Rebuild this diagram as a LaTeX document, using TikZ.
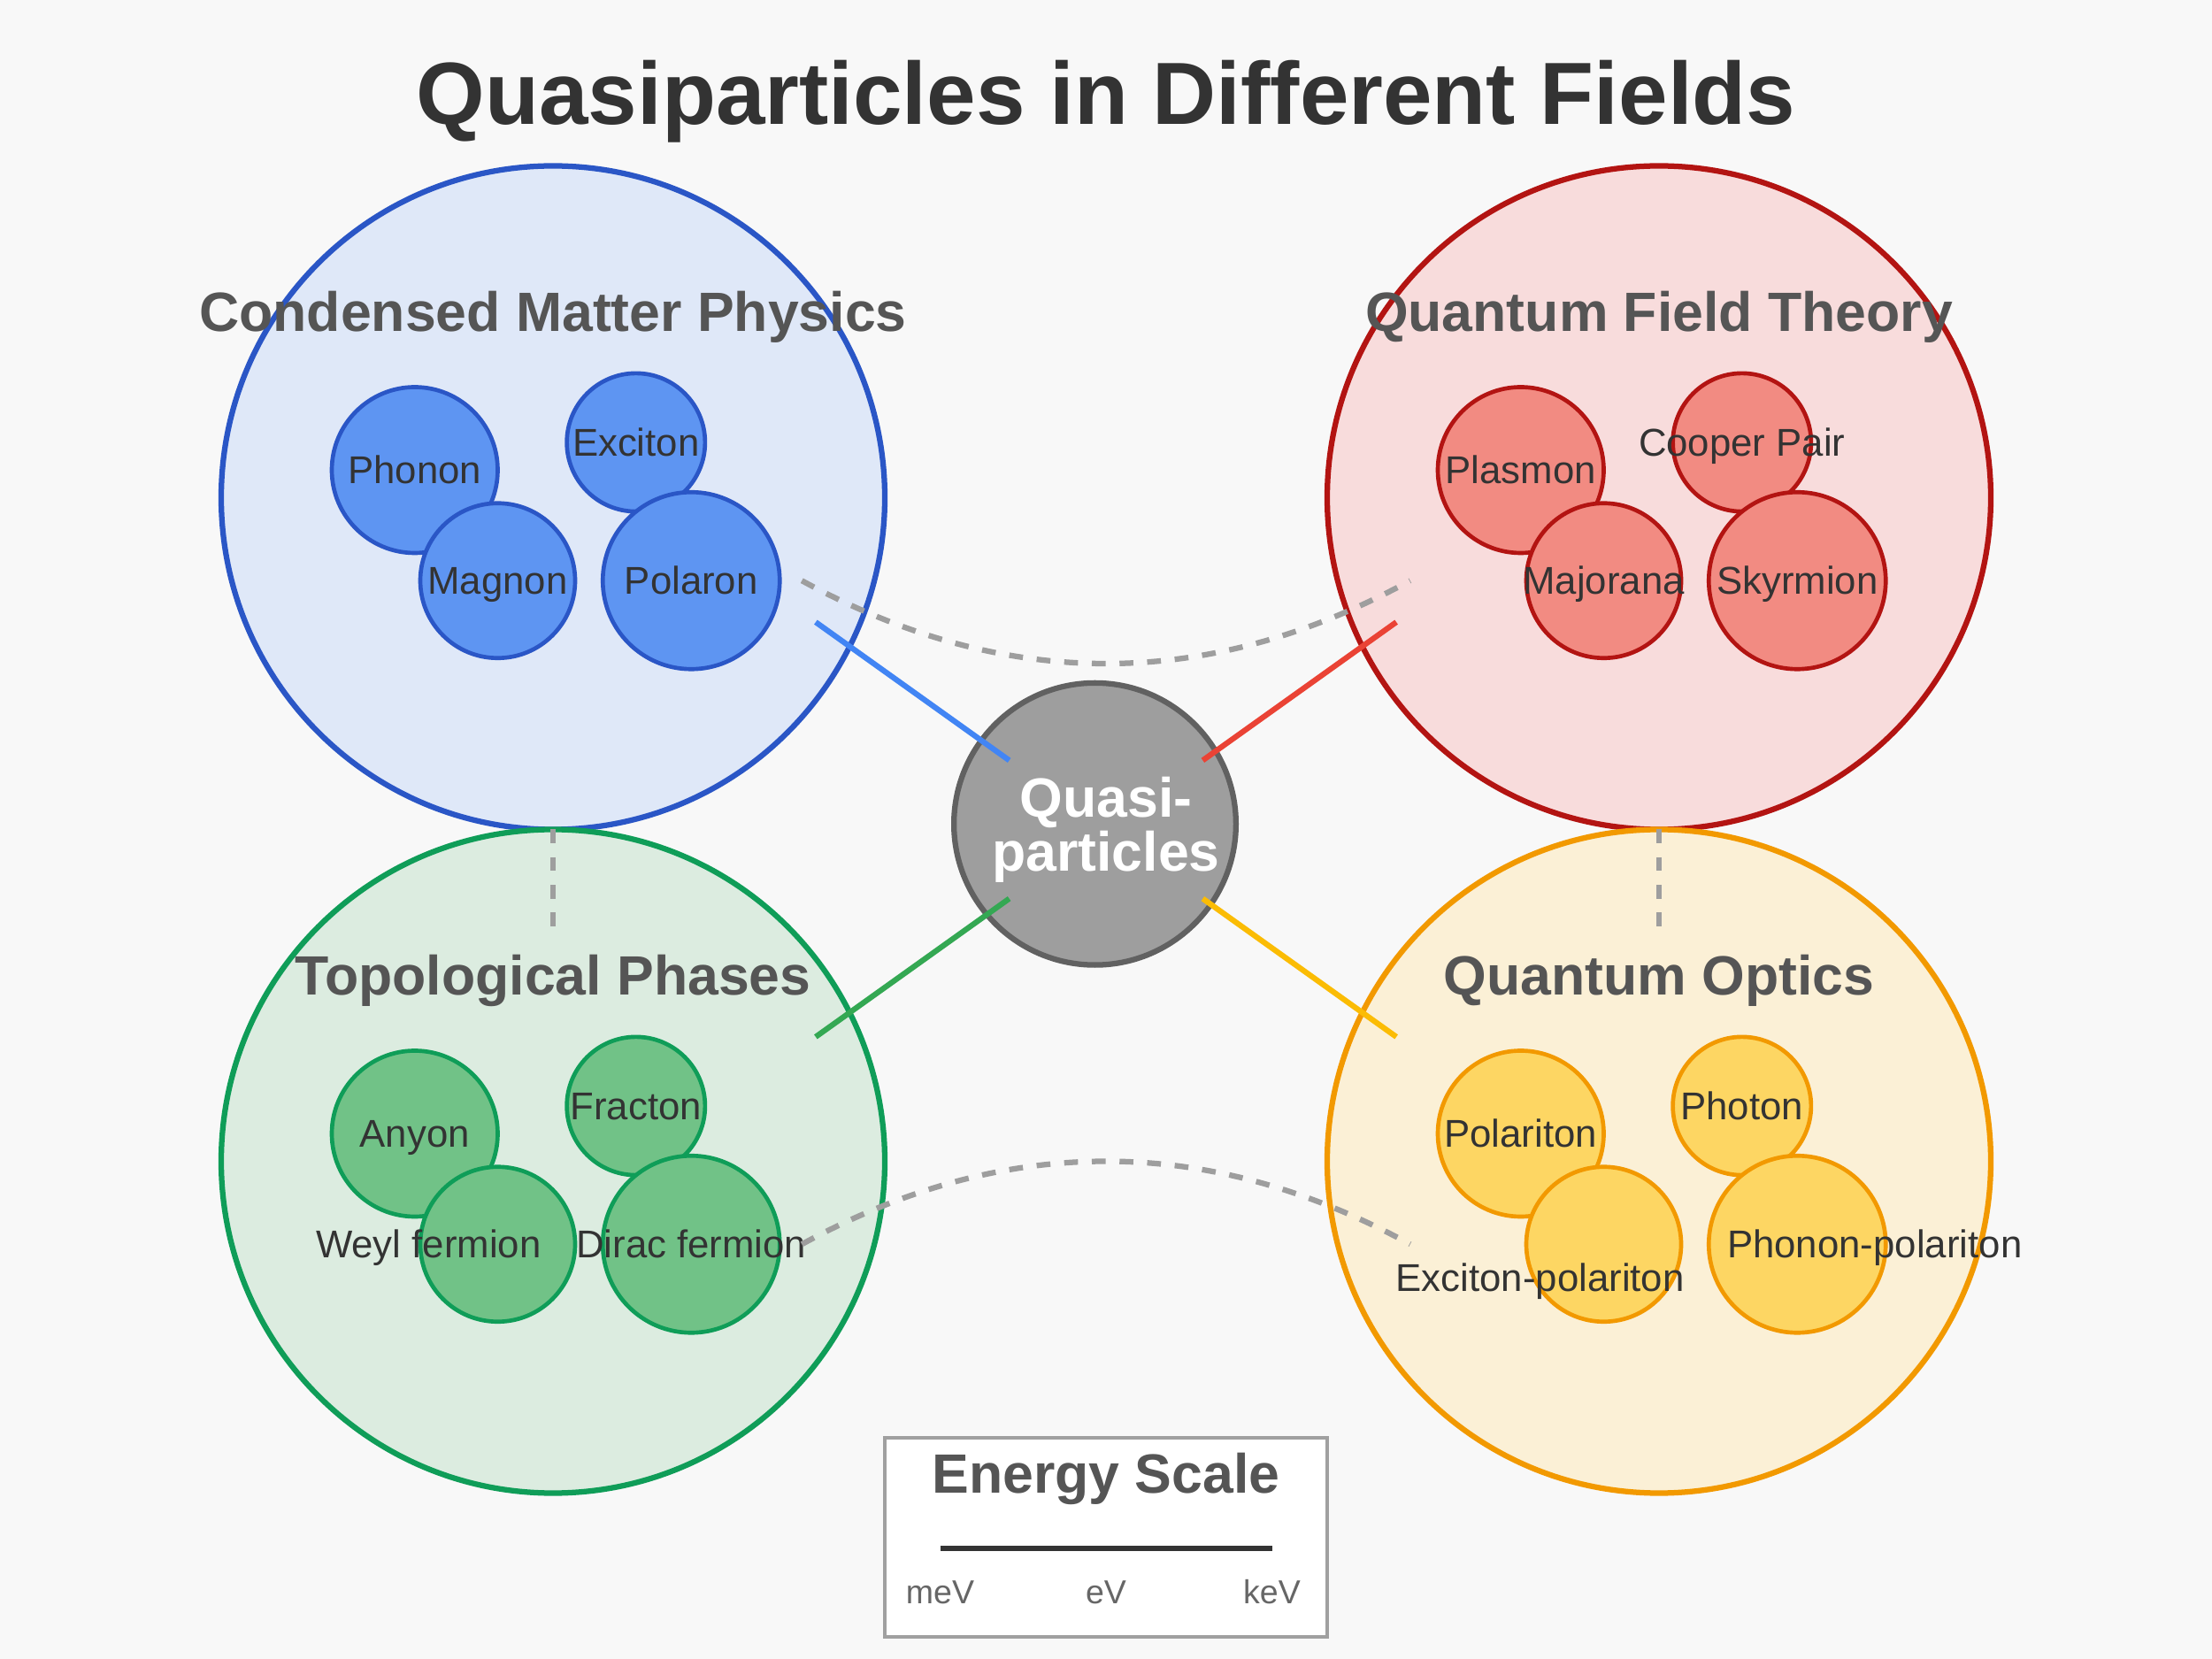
\documentclass[tikz,border=0pt]{standalone}
\usepackage{fontspec}
\setmainfont{Liberation Sans}
\usetikzlibrary{positioning}

\definecolor{canvas}{HTML}{F8F8F8}
\definecolor{ink}{HTML}{333333}
\definecolor{headgray}{HTML}{555555}
\definecolor{dashgray}{HTML}{9E9E9E}
\definecolor{unitgray}{HTML}{666666}
\definecolor{boxline}{HTML}{A0A0A0}
\definecolor{cmpline}{HTML}{2A56C6}
\definecolor{cmpfill}{HTML}{DFE8F8}
\definecolor{cmpdot}{HTML}{5E95F2}
\definecolor{cmplink}{HTML}{4285F4}
\definecolor{qftline}{HTML}{B31412}
\definecolor{qftfill}{HTML}{F8DCDC}
\definecolor{qftdot}{HTML}{F28B82}
\definecolor{qftlink}{HTML}{EA4335}
\definecolor{tpline}{HTML}{0F9D58}
\definecolor{tpfill}{HTML}{DCECE0}
\definecolor{tpdot}{HTML}{71C287}
\definecolor{tplink}{HTML}{34A853}
\definecolor{qoline}{HTML}{F29900}
\definecolor{qofill}{HTML}{FBF0D6}
\definecolor{qodot}{HTML}{FDD663}
\definecolor{qolink}{HTML}{FBBC04}
\definecolor{hubfill}{HTML}{9E9E9E}
\definecolor{hubline}{HTML}{616161}

\begin{document}
\begin{tikzpicture}[
  x=0.03125cm, y=-0.03125cm,
  field/.style={draw, circle, line width=1.78pt, minimum size=7.5cm, inner sep=0pt, outer sep=0pt},
  quasi/.style={draw, circle, line width=1.33pt, inner sep=0pt, outer sep=0pt},
  fieldname/.style={font=\fontsize{17.8pt}{20pt}\selectfont\bfseries, text=headgray, anchor=base, inner sep=0pt},
  plabel/.style={font=\fontsize{12.45pt}{14pt}\selectfont, text=ink, anchor=base, inner sep=0pt},
  link/.style={line width=1.78pt},
  bridge/.style={draw=dashgray, line width=1.78pt, dash pattern=on 4.45pt off 4.45pt}
]
\fill[canvas] (0,0) rectangle (800,600);
\node[font=\fontsize{28.4pt}{32pt}\selectfont\bfseries, text=ink, anchor=base, inner sep=0pt] (title) at (400,45) {Quasiparticles in Different Fields};

% condensed matter
\node[field, draw=cmpline, fill=cmpfill] (cmp) at (200,180) {};
\node[fieldname] (cmp-t) at (200,120) {Condensed Matter Physics};
\node[quasi, draw=cmpline, fill=cmpdot, minimum size=1.875cm] (phonon) at (150,170) {};
\node[plabel] (phonon-t) at (150,175) {Phonon};
\node[quasi, draw=cmpline, fill=cmpdot, minimum size=1.5625cm] (exciton) at (230,160) {};
\node[plabel] (exciton-t) at (230,165) {Exciton};
\node[quasi, draw=cmpline, fill=cmpdot, minimum size=1.75cm] (magnon) at (180,210) {};
\node[plabel] (magnon-t) at (180,215) {Magnon};
\node[quasi, draw=cmpline, fill=cmpdot, minimum size=2cm] (polaron) at (250,210) {};
\node[plabel] (polaron-t) at (250,215) {Polaron};

% quantum field theory
\node[field, draw=qftline, fill=qftfill] (qft) at (600,180) {};
\node[fieldname] (qft-t) at (600,120) {Quantum Field Theory};
\node[quasi, draw=qftline, fill=qftdot, minimum size=1.875cm] (plasmon) at (550,170) {};
\node[plabel] (plasmon-t) at (550,175) {Plasmon};
\node[quasi, draw=qftline, fill=qftdot, minimum size=1.5625cm] (cooper) at (630,160) {};
\node[plabel] (cooper-t) at (630,165) {Cooper Pair};
\node[quasi, draw=qftline, fill=qftdot, minimum size=1.75cm] (majorana) at (580,210) {};
\node[plabel] (majorana-t) at (580,215) {Majorana};
\node[quasi, draw=qftline, fill=qftdot, minimum size=2cm] (skyrmion) at (650,210) {};
\node[plabel] (skyrmion-t) at (650,215) {Skyrmion};

% topological phases
\node[field, draw=tpline, fill=tpfill] (tp) at (200,420) {};
\node[fieldname] (tp-t) at (200,360) {Topological Phases};
\node[quasi, draw=tpline, fill=tpdot, minimum size=1.875cm] (anyon) at (150,410) {};
\node[plabel] (anyon-t) at (150,415) {Anyon};
\node[quasi, draw=tpline, fill=tpdot, minimum size=1.5625cm] (fracton) at (230,400) {};
\node[plabel] (fracton-t) at (230,405) {Fracton};
\node[quasi, draw=tpline, fill=tpdot, minimum size=1.75cm] (weyl) at (180,450) {};
\node[plabel] (weyl-t) at (155,455) {Weyl fermion};
\node[quasi, draw=tpline, fill=tpdot, minimum size=2cm] (dirac) at (250,450) {};
\node[plabel] (dirac-t) at (250,455) {Dirac fermion};

% quantum optics
\node[field, draw=qoline, fill=qofill] (qo) at (600,420) {};
\node[fieldname] (qo-t) at (600,360) {Quantum Optics};
\node[quasi, draw=qoline, fill=qodot, minimum size=1.875cm] (polariton) at (550,410) {};
\node[plabel] (polariton-t) at (550,415) {Polariton};
\node[quasi, draw=qoline, fill=qodot, minimum size=1.5625cm] (photon) at (630,400) {};
\node[plabel] (photon-t) at (630,405) {Photon};
\node[quasi, draw=qoline, fill=qodot, minimum size=1.75cm] (excpol) at (580,450) {};
\node[plabel] (excpol-t) at (557,467) {Exciton-polariton};
\node[quasi, draw=qoline, fill=qodot, minimum size=2cm] (phonpol) at (650,450) {};
\node[plabel] (phonpol-t) at (678,455) {Phonon-polariton};

% vertical bridges
\coordinate (cmp-tp) at (200,340);
\coordinate (qft-qo) at (600,340);
\draw[bridge] (cmp.south) -- (cmp-tp);
\draw[bridge] (qft.south) -- (qft-qo);

% hub
\node[draw=hubline, fill=hubfill, circle, line width=1.78pt, minimum size=3.1875cm, inner sep=0pt, outer sep=0pt] (hub) at (396,298) {};
\node[font=\fontsize{17.8pt}{16pt}\selectfont\bfseries, text=white, align=center, inner sep=0pt] (hub-t) at (400,300) {Quasi-\\particles};

\coordinate (cmp-a) at (295,225);
\coordinate (cmp-b) at (365,275);
\coordinate (qft-a) at (505,225);
\coordinate (qft-b) at (435,275);
\coordinate (tp-a) at (295,375);
\coordinate (tp-b) at (365,325);
\coordinate (qo-a) at (505,375);
\coordinate (qo-b) at (435,325);
\draw[link, cmplink] (cmp-a) -- (cmp-b);
\draw[link, qftlink] (qft-a) -- (qft-b);
\draw[link, tplink] (tp-b) -- (tp-a);
\draw[link, qolink] (qo-b) -- (qo-a);

% dashed arcs
\coordinate (arc1-a) at (290,210);
\coordinate (arc1-b) at (510,210);
\coordinate (arc2-a) at (290,450);
\coordinate (arc2-b) at (510,450);
\draw[bridge] (arc1-a) .. controls (363.3,250) and (436.7,250) .. (arc1-b);
\draw[bridge] (arc2-a) .. controls (363.3,410) and (436.7,410) .. (arc2-b);

% energy scale
\node[draw=boxline, fill=white, line width=0.9pt, minimum width=5cm, minimum height=2.25cm, inner sep=0pt] (escale) at (400,556) {};
\node[fieldname] (escale-t) at (400,540) {Energy Scale};
\draw[ink, line width=1.78pt] (340,560) -- (460,560);
\node[plabel, text=unitgray, font=\fontsize{10.67pt}{12pt}\selectfont] (mev) at (340,580) {meV};
\node[plabel, text=unitgray, font=\fontsize{10.67pt}{12pt}\selectfont] (ev) at (400,580) {eV};
\node[plabel, text=unitgray, font=\fontsize{10.67pt}{12pt}\selectfont] (kev) at (460,580) {keV};
\end{tikzpicture}
\end{document}
